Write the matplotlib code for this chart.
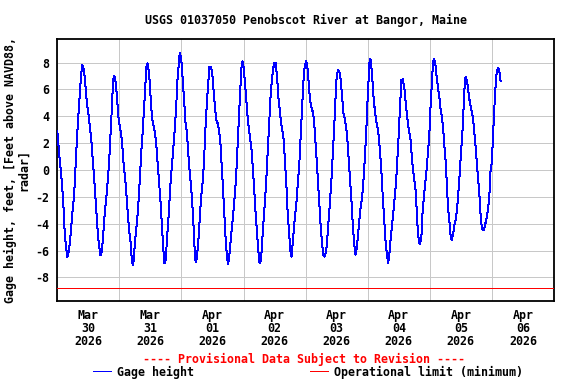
import matplotlib
matplotlib.use("Agg")
import matplotlib.pyplot as plt
import matplotlib.dates as mdates
import pandas as pd
import numpy as np

# ---------------- data ----------------
title = "USGS 01037050 Penobscot River at Bangor, Maine"
start = pd.Timestamp("2026-03-30 00:00")
end = pd.Timestamp("2026-04-07 00:00")

hours_since_start = [
    0.0, 0.77, 1.70, 2.32, 2.86, 3.37, 3.87, 4.53, 5.19, 5.81,
    6.46, 6.97, 7.51, 8.01, 8.52, 9.06, 9.56, 9.95, 10.45, 10.99,
    11.50, 12.15, 12.66, 13.16, 13.70, 14.21, 14.71, 15.25, 15.75, 16.26,
    16.65, 17.19, 17.69, 18.35, 18.97, 19.63, 20.13, 20.67, 21.06, 21.45,
    21.83, 22.22, 22.61, 23.11, 23.61, 24.16, 24.66, 25.16, 25.70, 26.21,
    26.71, 27.25, 27.75, 28.26, 28.65, 29.19, 29.57, 29.96, 30.47, 30.97,
    31.51, 32.01, 32.52, 33.06, 33.56, 34.06, 34.45, 34.84, 35.23, 35.77,
    36.27, 36.77, 37.32, 37.82, 38.32, 38.87, 39.37, 39.87, 40.41, 40.92,
    41.42, 41.96, 42.35, 42.85, 43.36, 43.90, 44.40, 44.90, 45.45, 45.95,
    46.45, 46.99, 47.30, 47.61, 48.16, 48.54, 49.05, 49.43, 49.94, 50.48,
    50.98, 51.49, 52.03, 52.53, 52.92, 53.30, 53.69, 54.19, 54.74, 55.24,
    55.74, 56.28, 56.79, 57.29, 57.83, 58.34, 58.84, 59.38, 59.88, 60.39,
    60.93, 61.43, 61.94, 62.48, 62.98, 63.48, 64.03, 64.53, 65.04, 65.58,
    66.08, 66.58, 67.12, 67.63, 68.13, 68.67, 69.18, 69.68, 70.22, 70.73,
    71.23, 71.62, 72.00, 72.55, 73.05, 73.55, 74.09, 74.60, 75.10, 75.64,
    76.14, 76.65, 77.19, 77.69, 78.19, 78.74, 79.24, 79.75, 80.29, 80.79,
    81.29, 81.84, 82.34, 82.84, 83.38, 83.89, 84.39, 84.93, 85.43, 85.94,
    86.48, 86.98, 87.49, 88.03, 88.53, 89.04, 89.58, 90.08, 90.58, 90.97,
    91.51, 92.02, 92.52, 93.06, 93.56, 94.07, 94.61, 95.11, 95.61, 96.16,
    96.66, 97.16, 97.70, 98.21, 98.71, 99.25, 99.76, 100.26, 100.80, 101.31,
    101.81, 102.35, 102.85, 103.36, 103.90, 104.40, 104.91, 105.45, 105.95, 106.45,
    107.00, 107.50, 108.00, 108.54, 109.05, 109.55, 110.09, 110.60, 111.10, 111.64,
    112.14, 112.65, 113.19, 113.69, 114.20, 114.74, 115.24, 115.75, 116.29, 116.79,
    117.29, 117.84, 118.34, 118.84, 119.38, 119.89, 120.39, 120.78, 121.16, 121.71,
    122.21, 122.71, 123.25, 123.76, 124.26, 124.80, 125.31, 125.81, 126.35, 126.85,
    127.36, 127.90, 128.40, 128.91, 129.45, 129.95, 130.45, 131.00, 131.50, 132.00,
    132.54, 133.05, 133.55, 134.09, 134.60, 135.10, 135.64, 136.14, 136.53, 137.19,
    137.83, 138.49, 139.00, 139.38, 140.04, 140.68, 141.18, 141.69, 142.22, 142.73,
    143.23, 143.77, 144.27, 144.78, 145.16, 145.55, 146.10, 146.60, 147.10, 147.64,
    148.15, 148.65, 149.19, 149.70, 150.20, 150.74, 151.24, 151.75, 152.13, 152.52,
    153.06, 153.56, 154.07, 154.61, 155.11, 155.62, 156.16, 156.66, 157.17, 157.55,
    157.94, 158.48, 158.98, 159.49, 160.03, 160.53, 161.03, 161.58, 162.08, 162.58,
    163.13, 163.51, 163.90, 164.40, 164.90, 165.45, 165.95, 166.45, 167.00, 167.38,
    167.88, 168.39, 168.77, 169.32, 169.70, 170.09, 170.48, 170.98, 171.37,
]

gage_height_ft = [
    2.9, 1.1, -0.75, -2.5, -4.7, -5.7, -6.5, -6.0, -4.7, -3.2,
    -2.0, 0.0, 2.0, 3.7, 5.2, 6.7, 7.8, 7.75, 7.2, 6.0,
    4.85, 4.0, 3.1, 2.2, 0.75, -0.5, -2.0, -3.7, -5.0, -5.8,
    -6.35, -6.1, -5.0, -3.2, -2.0, -0.5, 1.0, 3.0, 4.5, 6.2,
    7.0, 6.9, 6.5, 5.2, 4.0, 3.2, 2.7, 1.7, 0.25, -0.5,
    -1.75, -3.2, -4.5, -5.2, -6.3, -7.1, -6.7, -5.5, -4.5, -3.5,
    -2.0, -0.25, 1.5, 3.0, 4.7, 6.5, 7.7, 7.95, 7.5, 6.5,
    4.7, 3.7, 3.2, 2.7, 1.75, 0.25, -1.0, -2.25, -4.0, -5.7,
    -6.95, -6.7, -5.2, -4.0, -2.25, -0.5, 0.5, 1.75, 3.2, 4.7,
    6.7, 7.95, 8.7, 8.55, 7.8, 6.5, 5.2, 3.7, 3.0, 1.75,
    0.25, -0.75, -2.0, -3.7, -5.2, -6.7, -6.85, -6.0, -4.7, -3.0,
    -1.75, -0.75, 1.0, 3.2, 5.0, 6.5, 7.7, 7.7, 7.2, 6.0,
    4.7, 3.7, 3.5, 3.0, 2.25, 0.5, -1.25, -3.2, -5.0, -6.5,
    -7.0, -6.2, -5.0, -4.0, -3.0, -1.75, -0.25, 1.75, 4.0, 6.0,
    7.7, 8.1, 7.7, 6.5, 5.2, 4.0, 3.0, 2.25, 1.5, 0.0,
    -1.5, -3.2, -4.7, -6.0, -6.95, -6.7, -5.2, -3.7, -2.25, -0.75,
    1.25, 3.2, 5.2, 6.5, 7.5, 7.95, 7.95, 7.0, 5.5, 4.5,
    3.5, 3.0, 2.25, 0.5, -1.0, -3.2, -4.7, -6.0, -6.45, -5.5,
    -4.2, -3.2, -2.25, -0.75, 0.5, 2.5, 4.5, 6.5, 7.7, 8.1,
    7.7, 6.5, 5.2, 4.7, 4.35, 3.7, 2.25, 0.75, -1.0, -2.7,
    -4.2, -5.5, -6.35, -6.45, -6.1, -5.0, -3.7, -2.25, -0.75, 1.0,
    3.0, 5.2, 7.0, 7.45, 7.3, 6.7, 5.5, 4.2, 3.85, 3.2,
    2.25, 0.75, -0.75, -2.25, -4.0, -5.5, -6.3, -5.85, -4.7, -3.7,
    -2.7, -2.0, -0.75, 0.75, 2.7, 5.0, 7.0, 8.3, 8.2, 7.0,
    5.5, 4.5, 3.7, 3.2, 2.5, 1.25, -0.25, -2.0, -3.7, -5.2,
    -6.2, -6.9, -6.2, -5.0, -4.0, -3.0, -2.0, -0.75, 1.0, 2.7,
    5.0, 6.7, 6.75, 6.2, 5.2, 4.2, 3.35, 2.7, 2.3, 0.6,
    -0.5, -1.5, -3.2, -4.7, -5.5, -5.2, -3.2, -2.0, -1.0, 0.0,
    1.25, 2.5, 4.7, 6.5, 7.8, 8.3, 7.95, 7.0, 6.2, 5.5,
    4.5, 4.0, 3.0, 1.6, 0.5, -1.75, -3.2, -4.2, -5.1, -5.2,
    -4.7, -4.0, -3.7, -2.7, -1.5, 0.0, 1.5, 3.0, 5.2, 6.7,
    6.95, 6.5, 5.7, 5.0, 4.5, 4.0, 3.2, 2.0, 0.75, -0.5,
    -1.75, -3.0, -4.0, -4.5, -4.5, -4.0, -3.6, -3.0, -2.0, -0.25,
    0.5, 2.25, 4.0, 6.0, 7.0, 7.45, 7.6, 7.2, 6.6,
]

operational_limit_min = -8.8
y_ticks = [-8, -6, -4, -2, 0, 2, 4, 6, 8]
y_range = (-9.73, 9.73)

ylabel = "Gage height, feet, [Feet above NAVD88,\nradar]"
provisional = "---- Provisional Data Subject to Revision ----"
legend_labels = ["Gage height", "Operational limit (minimum)"]

assert len(hours_since_start) == len(gage_height_ft)

# ---------------- plot ----------------
FONT = "DejaVu Sans Mono"
FS = 8.4
plt.rcParams["font.family"] = [FONT]
plt.rcParams["font.weight"] = "bold"
plt.rcParams["font.size"] = FS

times = start + pd.to_timedelta(hours_since_start, unit="h")

fig = plt.figure(figsize=(5.76, 3.84), dpi=100)
ax = fig.add_axes([57.3 / 576, 1 - 300.7 / 384, (554 - 57.3) / 576, (300.7 - 39.3) / 384])

LW = 0.72  # one pixel
gage_line, = ax.plot(times, gage_height_ft, color="#0000ff", lw=LW,
                     antialiased=False, zorder=3)
limit_line = ax.axhline(operational_limit_min, color="#ff0000", lw=LW,
                        antialiased=False, zorder=3)

ax.set_xlim(start, end)
ax.set_ylim(*y_range)
ax.set_yticks(y_ticks)
ax.set_yticklabels([str(v) for v in y_ticks])

ax.xaxis.set_major_locator(mdates.HourLocator(byhour=[12]))
ax.xaxis.set_major_formatter(mdates.DateFormatter("%b\n%d\n%Y"))
ax.xaxis.set_minor_locator(mdates.DayLocator())

ax.grid(which="minor", axis="x", color="#c8c8c8", lw=LW, antialiased=False)
ax.grid(which="major", axis="y", color="#c8c8c8", lw=LW, antialiased=False)
ax.set_axisbelow(True)

ax.tick_params(which="both", length=0)
ax.tick_params(axis="x", pad=6.3)
ax.tick_params(axis="y", pad=5.5)
for lbl in ax.get_xticklabels():
    lbl.set_linespacing(1.0)

for s in ax.spines.values():
    s.set_linewidth(1.3)
    s.set_color("black")

ax.set_ylabel(ylabel, fontsize=FS, fontweight="bold", linespacing=1.0)
ax.yaxis.set_label_coords(-0.054, 0.5)

fig.text(306 / 576, 1 - 20 / 384, title, ha="center", va="center",
         fontsize=FS, fontweight="bold")
fig.text(304 / 576, 1 - 359 / 384, provisional, ha="center", va="center",
         fontsize=FS, fontweight="bold", color="#ff0000")

fig.legend([gage_line, limit_line], legend_labels, loc="center",
           bbox_to_anchor=(308 / 576, 1 - 372 / 384), ncol=2, frameon=False,
           fontsize=FS, handlelength=1.55, handletextpad=0.5,
           columnspacing=10.0, borderpad=0.0)

fig.savefig("out.png", dpi=100, facecolor="white")
